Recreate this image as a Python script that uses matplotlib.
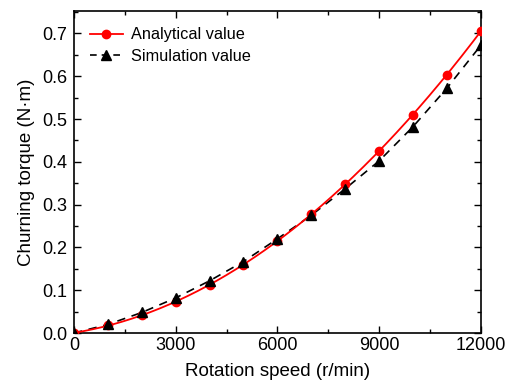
import numpy as np
import matplotlib
matplotlib.use('Agg')
import matplotlib.pyplot as plt
from matplotlib.ticker import MultipleLocator

plt.rcParams['font.family'] = ['Liberation Sans', 'DejaVu Sans']

speed = [0, 1000, 2000, 3000, 4000, 5000, 6000, 7000, 8000, 9000, 10000, 11000, 12000]
analytical = [0.0, 0.018, 0.042, 0.073, 0.112, 0.160, 0.215, 0.278, 0.348, 0.425, 0.510, 0.604, 0.705]
simulation = [0.0, 0.020, 0.048, 0.082, 0.122, 0.167, 0.220, 0.275, 0.337, 0.402, 0.482, 0.572, 0.672]

fig = plt.figure(figsize=(5.12, 3.85), dpi=100)
ax = fig.add_axes([0.1445, 0.135, 0.7945, 0.836])

# smooth line through the analytical points
xs = np.linspace(speed[0], speed[-1], 300)
coef = np.polyfit(speed, analytical, 3)
ax.plot(xs, np.polyval(coef, xs), color='red', lw=1.3, zorder=3)
ax.plot(speed, analytical, 'o', color='red', ms=6, zorder=4)
ax.plot(speed, simulation, '--', color='black', lw=1.2, dashes=(5, 4), zorder=2)
ax.plot(speed, simulation, '^', color='black', ms=6.5, zorder=5)

# legend handles
ax.plot([], [], '-o', color='red', lw=1.3, ms=6, label='Analytical value')
ax.plot([], [], '--^', color='black', lw=1.2, ms=6.5, dashes=(4, 3), label='Simulation value')
ax.legend(loc='upper left', frameon=False, fontsize=11.7, handlelength=2.0,
          borderaxespad=0.6, labelspacing=0.4, handletextpad=0.5)

ax.set_xlim(0, 12000)
ax.set_ylim(0, 0.752)
ax.xaxis.set_major_locator(MultipleLocator(3000))
ax.xaxis.set_minor_locator(MultipleLocator(1500))
ax.yaxis.set_major_locator(MultipleLocator(0.1))
ax.yaxis.set_minor_locator(MultipleLocator(0.05))
ax.yaxis.set_major_formatter(matplotlib.ticker.FormatStrFormatter('%.1f'))
ax.tick_params(which='both', direction='in', top=True, right=True, labelsize=13, width=1.0)
ax.tick_params(which='major', length=5)
ax.tick_params(which='minor', length=3)
ax.tick_params(axis='x', which='major', pad=3)
ax.tick_params(axis='y', which='major', pad=5)
for s in ax.spines.values():
    s.set_linewidth(1.2)

ax.set_xlabel('Rotation speed (r/min)', fontsize=13.5, labelpad=6)
ax.set_ylabel('Churning torque (N·m)', fontsize=13.5, labelpad=5)

fig.savefig('out.png', dpi=100)
